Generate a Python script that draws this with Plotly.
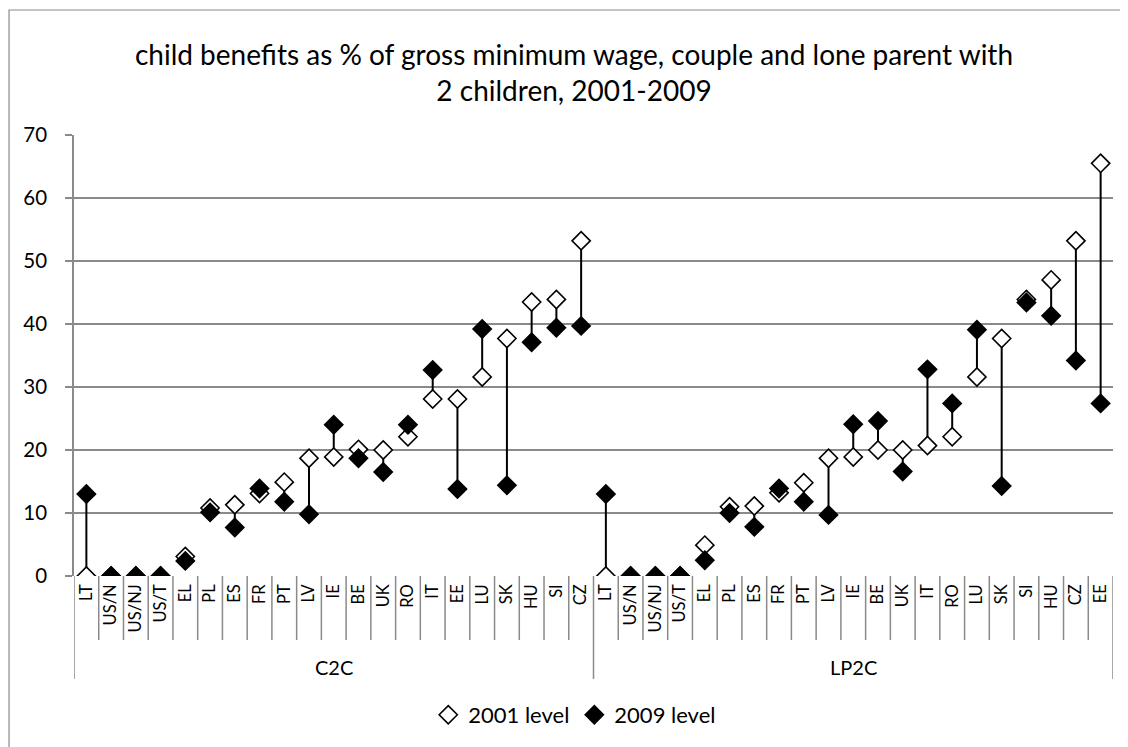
import plotly.graph_objects as go

groups = ["C2C", "LP2C"]
cats_c2c = ["LT", "US/N", "US/NJ", "US/T", "EL", "PL", "ES", "FR", "PT", "LV", "IE",
            "BE", "UK", "RO", "IT", "EE", "LU", "SK", "HU", "SI", "CZ"]
cats_lp2c = ["LT", "US/N", "US/NJ", "US/T", "EL", "PL", "ES", "FR", "PT", "LV", "IE",
             "BE", "UK", "IT", "RO", "LU", "SK", "SI", "HU", "CZ", "EE"]

c2c_2001 = [0, 0, 0, 0, 3.1, 10.8, 11.3, 13.1, 14.9, 18.7, 18.9,
            20.1, 20.0, 22.1, 28.1, 28.1, 31.6, 37.7, 43.5, 43.9, 53.2]
c2c_2009 = [13.0, 0, 0, 0, 2.4, 10.1, 7.7, 13.9, 11.8, 9.8, 24.0,
            18.7, 16.5, 24.0, 32.7, 13.8, 39.2, 14.4, 37.1, 39.4, 39.7]
lp2c_2001 = [0, 0, 0, 0, 4.9, 11.0, 11.1, 13.2, 14.8, 18.7, 18.9,
             20.0, 20.0, 20.7, 22.1, 31.6, 37.7, 43.9, 47.0, 53.2, 65.5]
lp2c_2009 = [13.0, 0, 0, 0, 2.5, 10.0, 7.8, 13.9, 11.8, 9.7, 24.1,
             24.6, 16.6, 32.8, 27.4, 39.1, 14.3, 43.4, 41.3, 34.2, 27.4]

labels = cats_c2c + cats_lp2c
v2001 = c2c_2001 + lp2c_2001
v2009 = c2c_2009 + lp2c_2009
xs = list(range(len(labels)))
n1 = len(cats_c2c)

FONT = "Lato"
GRAY = "#8a8a8a"

# plot-area geometry (figure pixels)
L, T, W, H = 66, 127, 1039.5, 441
B = T + H


def py(pix):
    """figure pixel y -> paper y"""
    return (B - pix) / H


def px(pix):
    return (pix - L) / W


# high-low connector lines
lx, ly = [], []
for x, a, b in zip(xs, v2001, v2009):
    lx += [x, x, None]
    ly += [a, b, None]

fig = go.Figure()
fig.add_trace(go.Scatter(x=lx, y=ly, mode="lines", line=dict(color="black", width=2),
                         showlegend=False, hoverinfo="skip"))
fig.add_trace(go.Scatter(x=xs, y=v2001, mode="markers", name="2001 level",
                         marker=dict(symbol="diamond", size=14, color="white",
                                     line=dict(color="black", width=1.6))))
fig.add_trace(go.Scatter(x=xs, y=v2009, mode="markers", name="2009 level",
                         marker=dict(symbol="diamond", size=14, color="black",
                                     line=dict(color="black", width=1.6))))

shapes = []
for i in range(1, len(labels)):
    if i == n1:
        continue
    shapes.append(dict(type="line", xref="x", yref="paper", x0=i - 0.5, x1=i - 0.5,
                       y0=0, y1=py(B + 64), line=dict(color=GRAY, width=1.5)))
for xb in [-0.5, n1 - 0.5, len(labels) - 0.5]:
    shapes.append(dict(type="line", xref="x", yref="paper", x0=xb, x1=xb,
                       y0=0, y1=py(B + 103), line=dict(color=GRAY, width=1.5)))
shapes.append(dict(type="rect", xref="paper", yref="paper",
                   x0=px(1), x1=px(1140), y0=py(760), y1=py(2),
                   line=dict(color=GRAY, width=1.2)))

annotations = []
for g, xc in zip(groups, [(n1 - 1) / 2, n1 + (len(cats_lp2c) - 1) / 2]):
    annotations.append(dict(text=g, x=xc, xref="x", y=py(659), yref="paper",
                            showarrow=False, font=dict(family=FONT, size=20, color="black"),
                            yanchor="middle"))

fig.update_layout(
    width=1128, height=747,
    margin=dict(l=L, r=1128 - L - W, t=T, b=747 - B, autoexpand=False),
    paper_bgcolor="white", plot_bgcolor="white",
    title=dict(text="child benefits as % of gross minimum wage, couple and lone parent with<br>2 children, 2001-2009",
               x=566 / 1128, xanchor="center", xref="container",
               y=1 - 57 / 747, yanchor="top", yref="container",
               font=dict(family=FONT, size=28, color="black")),
    xaxis=dict(range=[-0.5, len(labels) - 0.5], tickmode="array", tickvals=xs, ticktext=labels,
               tickangle=-90, showgrid=False, zeroline=False, showline=False, ticks="",
               tickfont=dict(family=FONT, size=16.5, color="black"), ticklabelstandoff=4),
    yaxis=dict(range=[0, 70], dtick=10, showgrid=True, gridcolor=GRAY, gridwidth=1.5,
               zeroline=False, showline=True, linecolor=GRAY, linewidth=1.5,
               ticks="outside", ticklen=7, tickcolor=GRAY, tickwidth=1.5,
               ticklabelstandoff=14,
               tickfont=dict(family=FONT, size=20.5, color="black")),
    legend=dict(orientation="h", x=px(567), xanchor="center", y=py(707), yanchor="middle",
                font=dict(family=FONT, size=22, color="black"), itemwidth=30,
                traceorder="normal"),
    shapes=shapes, annotations=annotations,
)

fig.write_html("out.html")
